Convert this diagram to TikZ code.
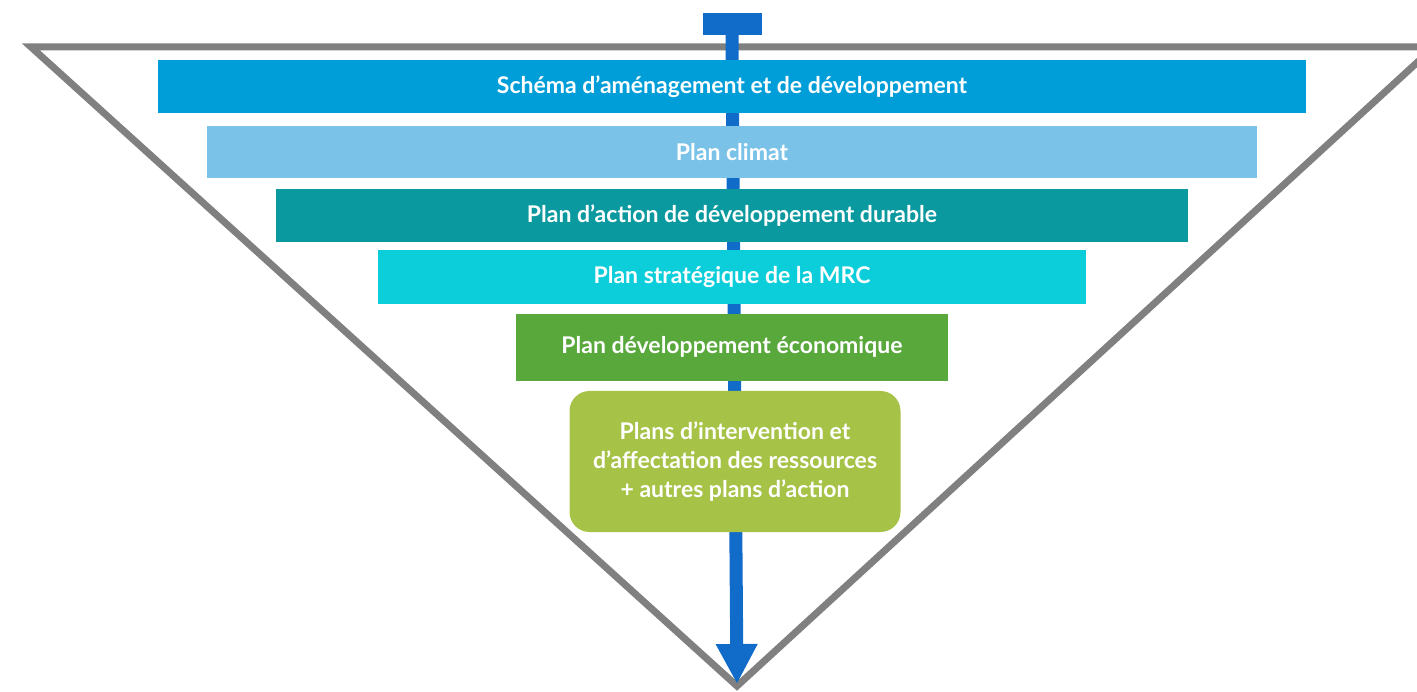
\documentclass[tikz,border=0pt]{standalone}
\usepackage{fontspec}
\setmainfont{Lato}
\usetikzlibrary{arrows.meta,positioning}
\definecolor{framegray}{RGB}{128,128,128}
\definecolor{arrowblue}{RGB}{16,108,200}
\definecolor{barblue}{RGB}{0,158,216}
\definecolor{barsky}{RGB}{122,194,232}
\definecolor{barteal}{RGB}{10,153,158}
\definecolor{barcyan}{RGB}{12,206,218}
\definecolor{bargreen}{RGB}{88,168,60}
\definecolor{barlime}{RGB}{166,195,72}
\tikzset{>={Triangle[width=39pt,length=40pt]},
  bar/.style={inner sep=0pt, minimum height=52pt, text=white,
    font=\bfseries\fontsize{23}{29}\selectfont}}

\begin{document}
\begin{tikzpicture}[x=1pt,y=-1pt,node distance=10pt]
    \useasboundingbox (0,0) rectangle (1417,692);

    % cadre
    \draw[framegray, line width=7pt] (31,47) -- (1434,47) -- (737,686) -- cycle;

    % fleche
    \node (top) [fill=arrowblue, minimum width=59pt, minimum height=22pt, inner sep=0pt] at (732,24) {};
    \coordinate (tip) at (737,684);
    \draw[->, arrowblue, line width=13pt] (top.south) -- (tip);

    % plans
    \node (a1) [bar, fill=barblue, minimum width=1148pt, minimum height=53pt] at (732,86.5) {Schéma d’aménagement et de développement};
    \node (a2) [bar, fill=barsky, minimum width=1050pt, below=13pt of a1] {Plan climat};
    \node (a3) [bar, fill=barteal, minimum width=912pt, minimum height=53pt, below=10pt of a2] {Plan d’action de développement durable};
    \node (a4) [bar, fill=barcyan, minimum width=708pt, minimum height=54pt, below=8pt of a3] {Plan stratégique de la MRC};
    \node (a5) [bar, fill=bargreen, minimum width=432pt, minimum height=67pt, below=9pt of a4] {Plan développement économique};
    \node (a6) [bar, fill=barlime, minimum width=331pt, minimum height=141pt, rounded corners=20pt,
      align=center, below=10pt of a5, xshift=3pt] {Plans d’intervention et\\d’affectation des ressources\\+ autres plans d’action};
\end{tikzpicture}
\end{document}
